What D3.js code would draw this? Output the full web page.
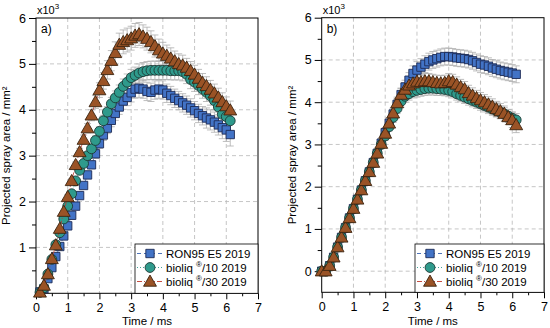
<!DOCTYPE html>
<html>
<head>
<meta charset="utf-8">
<script src="https://cdn.jsdelivr.net/npm/d3@7"></script>
<style>
  body { margin: 0; background: #fff; }
  svg { display: block; font-family: 'Liberation Sans', Arial, sans-serif; }
</style>
</head>
<body>
<div id="chart"></div>
<script>
// time axis: one frame every 0.125 ms
const timeLeft = [0.125, 0.25, 0.375, 0.5, 0.625, 0.75, 0.875, 1, 1.125, 1.25, 1.375, 1.5, 1.625, 1.75, 1.875, 2,
  2.125, 2.25, 2.375, 2.5, 2.625, 2.75, 2.875, 3, 3.125, 3.25, 3.375, 3.5, 3.625, 3.75, 3.875, 4,
  4.125, 4.25, 4.375, 4.5, 4.625, 4.75, 4.875, 5, 5.125, 5.25, 5.375, 5.5, 5.625, 5.75, 5.875, 6, 6.125]
const timeRight = [0].concat(timeLeft)

const seriesNames = ['RON95 E5 2019', 'bioliq ®/10 2019', 'bioliq ®/30 2019']

// panel a) values in 10^3 mm²
const ronA = [0.03, 0.1, 0.32, 0.56, 0.8, 1.02, 1.25, 1.47, 1.7, 1.9, 2.13, 2.35, 2.58, 2.8, 3.04, 3.26,
  3.45, 3.6, 3.77, 3.92, 4.06, 4.19, 4.27, 4.37, 4.45, 4.47, 4.45, 4.4, 4.38, 4.43, 4.45, 4.43,
  4.36, 4.31, 4.25, 4.2, 4.15, 4.1, 4.04, 3.98, 3.92, 3.87, 3.82, 3.78, 3.73, 3.67, 3.61, 3.56, 3.46]
const bio10A = [0.02, 0.12, 0.42, 0.74, 1.06, 1.32, 1.62, 1.9, 2.17, 2.45, 2.68, 2.83, 3.0, 3.15, 3.33, 3.53,
  3.76, 3.95, 4.13, 4.26, 4.38, 4.51, 4.6, 4.7, 4.75, 4.8, 4.83, 4.85, 4.86, 4.86, 4.86, 4.86,
  4.86, 4.85, 4.85, 4.85, 4.83, 4.77, 4.66, 4.6, 4.53, 4.45, 4.38, 4.3, 4.2, 4.06, 3.9, 3.85, 3.76]
const bio30A = [0.02, 0.17, 0.42, 0.75, 1.05, 1.41, 1.78, 2.1, 2.45, 2.8, 3.08, 3.35, 3.6, 3.88, 4.17, 4.43,
  4.63, 4.87, 5.07, 5.24, 5.42, 5.48, 5.52, 5.56, 5.62, 5.65, 5.6, 5.55, 5.48, 5.39, 5.3, 5.23,
  5.18, 5.12, 5.06, 5.0, 4.97, 4.92, 4.85, 4.77, 4.68, 4.59, 4.52, 4.44, 4.36, 4.27, 4.17, 4.08, 3.99]
const ronAErr = [0, 0, 0, 0, 0, 0, 0, 0.05, 0.05, 0.05, 0.06, 0.06, 0.08, 0.08, 0.1, 0.1,
  0.12, 0.12, 0.14, 0.15, 0.16, 0.18, 0.18, 0.2, 0.2, 0.2, 0.2, 0.2, 0.2, 0.2, 0.2, 0.2,
  0.2, 0.2, 0.2, 0.2, 0.2, 0.2, 0.2, 0.2, 0.2, 0.2, 0.22, 0.22, 0.22, 0.22, 0.24, 0.25, 0.25]
const bio10AErr = [0, 0, 0, 0, 0, 0, 0, 0.05, 0.05, 0.05, 0.06, 0.06, 0.08, 0.08, 0.1, 0.1,
  0.12, 0.12, 0.14, 0.15, 0.16, 0.16, 0.18, 0.18, 0.18, 0.2, 0.2, 0.2, 0.2, 0.2, 0.2, 0.2,
  0.2, 0.2, 0.2, 0.2, 0.2, 0.2, 0.2, 0.2, 0.2, 0.2, 0.2, 0.2, 0.2, 0.22, 0.22, 0.22, 0.22]
const bio30AErr = [0, 0, 0, 0, 0, 0, 0, 0.05, 0.05, 0.06, 0.08, 0.1, 0.1, 0.12, 0.14, 0.16,
  0.18, 0.2, 0.22, 0.24, 0.25, 0.26, 0.26, 0.26, 0.26, 0.25, 0.25, 0.25, 0.24, 0.24, 0.24, 0.24,
  0.23, 0.23, 0.22, 0.22, 0.22, 0.2, 0.2, 0.2, 0.2, 0.2, 0.2, 0.2, 0.2, 0.2, 0.2, 0.2, 0.2]

// panel b) values in 10^3 mm²
const ronB = [0, 0, 0.13, 0.33, 0.57, 0.8, 1.03, 1.26, 1.48, 1.7, 1.92, 2.14, 2.35, 2.57, 2.79, 3.03, 3.28,
  3.5, 3.72, 3.95, 4.18, 4.36, 4.52, 4.68, 4.76, 4.83, 4.9, 4.96, 5.0, 5.03, 5.06, 5.08, 5.08,
  5.07, 5.05, 5.04, 5.03, 5.01, 4.98, 4.94, 4.9, 4.88, 4.85, 4.81, 4.78, 4.75, 4.73, 4.71, 4.69, 4.66]
const bio10B = [0, 0, 0.13, 0.33, 0.57, 0.8, 1.03, 1.26, 1.48, 1.7, 1.92, 2.14, 2.35, 2.57, 2.79, 3.0, 3.2,
  3.42, 3.64, 3.85, 4.02, 4.14, 4.2, 4.25, 4.28, 4.3, 4.32, 4.33, 4.33, 4.32, 4.31, 4.3, 4.28,
  4.25, 4.2, 4.16, 4.12, 4.08, 4.04, 4.0, 3.96, 3.92, 3.88, 3.84, 3.8, 3.76, 3.72, 3.67, 3.62, 3.58]
const bio30B = [0, 0, 0.13, 0.33, 0.57, 0.8, 1.03, 1.26, 1.48, 1.7, 1.92, 2.14, 2.35, 2.57, 2.79, 3.02, 3.26,
  3.5, 3.74, 3.98, 4.18, 4.3, 4.4, 4.45, 4.49, 4.48, 4.5, 4.5, 4.48, 4.46, 4.45, 4.46, 4.5,
  4.48, 4.42, 4.36, 4.31, 4.22, 4.16, 4.1, 4.05, 4.0, 3.95, 3.9, 3.84, 3.79, 3.73, 3.65, 3.58, 3.46]
const ronBErr = [0, 0, 0, 0, 0, 0, 0, 0, 0.05, 0.05, 0.05, 0.06, 0.06, 0.08, 0.08, 0.1, 0.1,
  0.12, 0.12, 0.14, 0.15, 0.16, 0.18, 0.18, 0.2, 0.2, 0.2, 0.2, 0.2, 0.2, 0.2, 0.2, 0.2,
  0.2, 0.2, 0.2, 0.2, 0.2, 0.2, 0.2, 0.2, 0.2, 0.2, 0.2, 0.2, 0.2, 0.2, 0.2, 0.2, 0.2]
const bio10BErr = [0, 0, 0, 0, 0, 0, 0, 0, 0.05, 0.05, 0.05, 0.06, 0.06, 0.08, 0.08, 0.1, 0.1,
  0.1, 0.12, 0.12, 0.14, 0.14, 0.15, 0.15, 0.16, 0.16, 0.16, 0.16, 0.16, 0.16, 0.15, 0.15, 0.15,
  0.15, 0.15, 0.15, 0.15, 0.15, 0.15, 0.15, 0.15, 0.15, 0.15, 0.15, 0.15, 0.15, 0.15, 0.15, 0.15, 0.15]
const bio30BErr = [0, 0, 0, 0, 0, 0, 0, 0, 0.05, 0.05, 0.05, 0.06, 0.06, 0.08, 0.08, 0.1, 0.1,
  0.12, 0.12, 0.14, 0.15, 0.16, 0.18, 0.18, 0.18, 0.18, 0.18, 0.18, 0.18, 0.18, 0.18, 0.18, 0.18,
  0.18, 0.18, 0.18, 0.18, 0.18, 0.18, 0.18, 0.18, 0.18, 0.18, 0.18, 0.18, 0.18, 0.18, 0.18, 0.18, 0.18]

const xTicks = [0, 1, 2, 3, 4, 5, 6, 7]

let styles = [
  { fill: '#4273c6', stroke: '#1d2a55', line: '#3a63b0', dash: '4,3', shape: d3.symbolSquare, size: 70 },
  { fill: '#2f9a8c', stroke: '#1d3a36', line: '#2f9a8c', dash: '1,2', shape: d3.symbolCircle, size: 76 },
  { fill: '#9a5326', stroke: '#3b2410', line: '#c0392b', dash: '5,2,1,2', shape: d3.symbolTriangle, size: 72 }
]

let svg = d3.select('#chart')
  .append('svg')
  .attr('width', 550)
  .attr('height', 328)

function drawPanel(p) {
  let x = d3.scaleLinear().domain([0, 7]).range([p.left, p.right])
  let y = d3.scaleLinear().domain(p.yDomain).range([p.bottom, p.top])
  let g = svg.append('g')

  // grid
  g.selectAll('.vgrid')
    .data(xTicks.slice(1, -1))
    .enter().append('line')
    .attr('x1', d => x(d)).attr('x2', d => x(d))
    .attr('y1', p.top).attr('y2', p.bottom)
    .attr('stroke', '#b8b8b8').attr('stroke-dasharray', '4,3').attr('stroke-width', 0.8)
  g.selectAll('.hgrid')
    .data(p.yTicks.filter(d => d > p.yDomain[0] && d < p.yDomain[1]))
    .enter().append('line')
    .attr('y1', d => y(d)).attr('y2', d => y(d))
    .attr('x1', p.left).attr('x2', p.right)
    .attr('stroke', '#b8b8b8').attr('stroke-dasharray', '4,3').attr('stroke-width', 0.8)

  // axes
  let xAxis = d3.axisBottom(x).tickValues(xTicks).tickSize(6).tickPadding(4).tickFormat(d3.format('d'))
  let xMinor = d3.axisBottom(x).tickValues(d3.range(0.5, 7, 1)).tickSize(3).tickFormat('')
  let yAxis = d3.axisLeft(y).tickValues(p.yLabels).tickSize(7).tickPadding(3).tickFormat(d3.format('d'))
  let yMinor = d3.axisLeft(y).tickValues(p.yMinor).tickSize(4).tickFormat('')

  ;[xAxis, xMinor].forEach(a => {
    g.append('g').attr('transform', `translate(0,${p.bottom})`).call(a)
      .call(s => s.select('.domain').remove())
  })
  ;[yAxis, yMinor].forEach(a => {
    g.append('g').attr('transform', `translate(${p.left},0)`).call(a)
      .call(s => s.select('.domain').remove())
  })
  g.selectAll('.tick text').attr('font-size', 12.5).attr('fill', '#000')
    .attr('font-family', "'Liberation Sans', Arial, sans-serif")
  g.selectAll('.tick line').attr('stroke', '#000')

  // frame
  g.append('rect')
    .attr('x', p.left).attr('y', p.top)
    .attr('width', p.right - p.left).attr('height', p.bottom - p.top)
    .attr('fill', 'none').attr('stroke', '#000').attr('stroke-width', 1)

  // error bars
  p.series.forEach((s, i) => {
    let pts = s.values.map((v, j) => ({ t: p.time[j], v: v, e: s.err[j] })).filter(d => d.e > 0)
    let eb = g.append('g').attr('stroke', '#adadad').attr('stroke-width', 0.8)
    eb.selectAll('line.bar').data(pts).enter().append('line')
      .attr('x1', d => x(d.t)).attr('x2', d => x(d.t))
      .attr('y1', d => y(d.v - d.e)).attr('y2', d => y(d.v + d.e))
    eb.selectAll('line.capTop').data(pts).enter().append('line')
      .attr('x1', d => x(d.t) - 3.5).attr('x2', d => x(d.t) + 3.5)
      .attr('y1', d => y(d.v + d.e)).attr('y2', d => y(d.v + d.e))
    eb.selectAll('line.capBot').data(pts).enter().append('line')
      .attr('x1', d => x(d.t) - 3.5).attr('x2', d => x(d.t) + 3.5)
      .attr('y1', d => y(d.v - d.e)).attr('y2', d => y(d.v - d.e))
  })

  // lines + markers
  p.series.forEach((s, i) => {
    let st = styles[i]
    let line = d3.line().x((d, j) => x(p.time[j])).y(d => y(d))
    g.append('path').datum(s.values)
      .attr('d', line).attr('fill', 'none')
      .attr('stroke', st.line).attr('stroke-width', 0.8).attr('stroke-dasharray', st.dash)
    g.selectAll('.m' + i)
      .data(s.values)
      .enter().append('path')
      .attr('d', d3.symbol().type(st.shape).size(st.size))
      .attr('transform', (d, j) => `translate(${x(p.time[j])},${y(d) + (i === 2 ? 1 : 0)})`)
      .attr('fill', st.fill).attr('stroke', st.stroke).attr('stroke-width', 0.9)
  })

  // labels
  g.append('text').attr('x', p.left + 5).attr('y', p.top + 15)
    .attr('font-size', 12).text(p.tag)
  let ex = g.append('text').attr('x', p.left + 1).attr('y', p.top - 4).attr('font-size', 11)
  ex.append('tspan').text('x10')
  ex.append('tspan').attr('dy', -5).attr('font-size', 8).text('3')

  g.append('text')
    .attr('transform', `translate(${p.left - 26},${(p.top + p.bottom) / 2}) rotate(-90)`)
    .attr('text-anchor', 'middle').attr('font-size', 11.5)
    .text('Projected spray area / mm²')
  g.append('text')
    .attr('x', (p.left + p.right) / 2).attr('y', 325)
    .attr('text-anchor', 'middle').attr('font-size', 11.5)
    .text('Time / ms')

  // legend
  let lg = g.append('g')
  lg.append('rect')
    .attr('x', p.legendX).attr('y', 244)
    .attr('width', p.right - p.legendX).attr('height', p.bottom - 244)
    .attr('fill', '#fff').attr('stroke', '#000').attr('stroke-width', 0.8)
  seriesNames.forEach((name, i) => {
    let st = styles[i]
    let ly = 253.5 + i * 14
    let lx = p.legendX + 2
    lg.append('line').attr('x1', lx).attr('x2', lx + 26).attr('y1', ly).attr('y2', ly)
      .attr('stroke', st.line).attr('stroke-dasharray', st.dash).attr('stroke-width', 0.9)
    lg.append('path')
      .attr('d', d3.symbol().type(st.shape).size(st.size))
      .attr('transform', `translate(${lx + 13},${ly + (i === 2 ? 1 : 0)})`)
      .attr('fill', st.fill).attr('stroke', st.stroke).attr('stroke-width', 0.9)
    let t = lg.append('text').attr('x', lx + 29).attr('y', ly + 4).attr('font-size', 11.5)
    let parts = name.split('®')
    t.append('tspan').text(parts[0])
    if (parts.length > 1) {
      t.append('tspan').attr('dy', -5).attr('font-size', 8).text('®')
      t.append('tspan').attr('dy', 5).text(parts[1])
    }
  })
}

drawPanel({
  tag: 'a)', left: 36, right: 258, top: 18, bottom: 293.3, yDomain: [0, 6],
  yTicks: [0, 1, 2, 3, 4, 5, 6], yLabels: [1, 2, 3, 4, 5, 6], yMinor: [0.5, 1.5, 2.5, 3.5, 4.5, 5.5],
  time: timeLeft, legendX: 135,
  series: [
    { values: ronA, err: ronAErr },
    { values: bio10A, err: bio10AErr },
    { values: bio30A, err: bio30AErr }
  ]
})

drawPanel({
  tag: 'b)', left: 321.7, right: 544, top: 17.7, bottom: 292.3, yDomain: [-0.5, 6],
  yTicks: [0, 1, 2, 3, 4, 5, 6], yLabels: [0, 1, 2, 3, 4, 5, 6], yMinor: [0.5, 1.5, 2.5, 3.5, 4.5, 5.5],
  time: timeRight, legendX: 415,
  series: [
    { values: ronB, err: ronBErr },
    { values: bio10B, err: bio10BErr },
    { values: bio30B, err: bio30BErr }
  ]
})
</script>
</body>
</html>
